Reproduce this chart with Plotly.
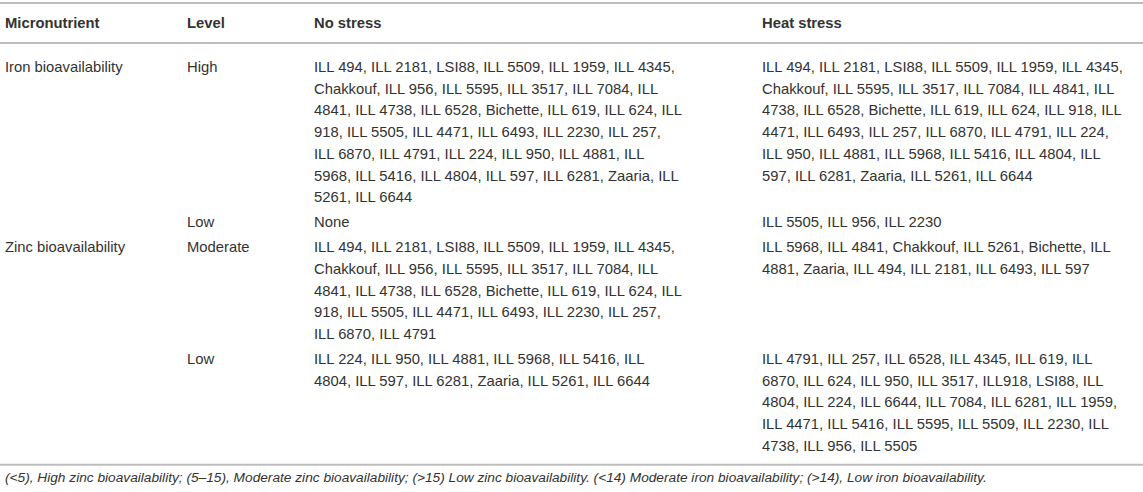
import plotly.graph_objects as go

# Table content (cells kept as the wrapped lines seen in the original)
headers = ["Micronutrient", "Level", "No stress", "Heat stress"]

micronutrients = ["Iron bioavailability", "", "Zinc bioavailability", ""]
levels = ["High", "Low", "Moderate", "Low"]

no_stress = [
    ["ILL 494, ILL 2181, LSI88, ILL 5509, ILL 1959, ILL 4345,",
     "Chakkouf, ILL 956, ILL 5595, ILL 3517, ILL 7084, ILL",
     "4841, ILL 4738, ILL 6528, Bichette, ILL 619, ILL 624, ILL",
     "918, ILL 5505, ILL 4471, ILL 6493, ILL 2230, ILL 257,",
     "ILL 6870, ILL 4791, ILL 224, ILL 950, ILL 4881, ILL",
     "5968, ILL 5416, ILL 4804, ILL 597, ILL 6281, Zaaria, ILL",
     "5261, ILL 6644"],
    ["None"],
    ["ILL 494, ILL 2181, LSI88, ILL 5509, ILL 1959, ILL 4345,",
     "Chakkouf, ILL 956, ILL 5595, ILL 3517, ILL 7084, ILL",
     "4841, ILL 4738, ILL 6528, Bichette, ILL 619, ILL 624, ILL",
     "918, ILL 5505, ILL 4471, ILL 6493, ILL 2230, ILL 257,",
     "ILL 6870, ILL 4791"],
    ["ILL 224, ILL 950, ILL 4881, ILL 5968, ILL 5416, ILL",
     "4804, ILL 597, ILL 6281, Zaaria, ILL 5261, ILL 6644"],
]

heat_stress = [
    ["ILL 494, ILL 2181, LSI88, ILL 5509, ILL 1959, ILL 4345,",
     "Chakkouf, ILL 5595, ILL 3517, ILL 7084, ILL 4841, ILL",
     "4738, ILL 6528, Bichette, ILL 619, ILL 624, ILL 918, ILL",
     "4471, ILL 6493, ILL 257, ILL 6870, ILL 4791, ILL 224,",
     "ILL 950, ILL 4881, ILL 5968, ILL 5416, ILL 4804, ILL",
     "597, ILL 6281, Zaaria, ILL 5261, ILL 6644"],
    ["ILL 5505, ILL 956, ILL 2230"],
    ["ILL 5968, ILL 4841, Chakkouf, ILL 5261, Bichette, ILL",
     "4881, Zaaria, ILL 494, ILL 2181, ILL 6493, ILL 597"],
    ["ILL 4791, ILL 257, ILL 6528, ILL 4345, ILL 619, ILL",
     "6870, ILL 624, ILL 950, ILL 3517, ILL918, LSI88, ILL",
     "4804, ILL 224, ILL 6644, ILL 7084, ILL 6281, ILL 1959,",
     "ILL 4471, ILL 5416, ILL 5595, ILL 5509, ILL 2230, ILL",
     "4738, ILL 956, ILL 5505"],
]

footnote = ("(<5), High zinc bioavailability; (5–15), Moderate zinc bioavailability; "
            "(>15) Low zinc bioavailability. (<14) Moderate iron bioavailability; "
            "(>14), Low iron bioavailability.")

# layout constants (pixels)
W, H = 1143, 492
col_x = [3, 185, 312, 760]
line_h = 21.7
font = "Liberation Sans, Arial, sans-serif"
txt_color = "#333333"
rule_color = "#bdbdbd"

fig = go.Figure()
annotations = []
shapes = []


def add_text(x, y, text, bold=False, italic=False, size=14.8):
    if bold:
        text = "<b>" + text + "</b>"
    if italic:
        text = "<i>" + text + "</i>"
    annotations.append(dict(
        x=x, y=y, xref="x", yref="y", text=text, showarrow=False,
        xanchor="left", yanchor="middle", align="left",
        font=dict(family=font, size=size, color=txt_color),
    ))


def add_rule(y):
    shapes.append(dict(type="line", xref="x", yref="y", x0=0, x1=W, y0=y, y1=y,
                       line=dict(color=rule_color, width=2)))


# header
add_rule(3)
for cx, h in zip(col_x, headers):
    add_text(cx, 23, h, bold=True)
add_rule(43)

# body rows
y = 67
for i in range(len(levels)):
    add_text(col_x[0], y, micronutrients[i])
    add_text(col_x[1], y, levels[i])
    for k, ln in enumerate(no_stress[i]):
        add_text(col_x[2], y + k * line_h, ln)
    for k, ln in enumerate(heat_stress[i]):
        add_text(col_x[3], y + k * line_h, ln)
    n = max(len(no_stress[i]), len(heat_stress[i]))
    last = y + (n - 1) * line_h
    y = last + 25

add_rule(last + 19)
add_text(col_x[0], last + 32, footnote, italic=True, size=13.7)

fig.update_layout(
    width=W, height=H,
    margin=dict(l=0, r=0, t=0, b=0),
    paper_bgcolor="white", plot_bgcolor="white",
    xaxis=dict(range=[0, W], visible=False, fixedrange=True),
    yaxis=dict(range=[H, 0], visible=False, fixedrange=True),
    annotations=annotations, shapes=shapes,
    showlegend=False,
)

# drop the default 8px page margin so the figure sits at the window corner
fig.write_html("out.html", config={"displayModeBar": False},
               post_script="document.body.style.margin='0';document.body.style.overflow='hidden';")
